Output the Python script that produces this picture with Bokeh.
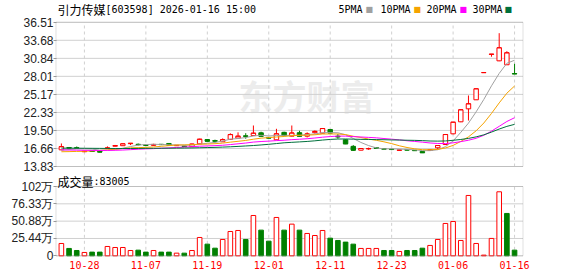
from bokeh.plotting import figure
from bokeh.models import FixedTicker, Label, Range1d, ColumnDataSource, BoxAnnotation
from bokeh.layouts import column
from bokeh.embed import file_html
from bokeh.resources import INLINE

dates = ["10-23", "10-24", "10-27", "10-28", "10-29", "10-30", "10-31",
         "11-03", "11-04", "11-05", "11-06", "11-07",
         "11-10", "11-11", "11-12", "11-13", "11-14",
         "11-17", "11-18", "11-19", "11-20", "11-21",
         "11-24", "11-25", "11-26", "11-27", "11-28",
         "12-01", "12-02", "12-03", "12-04", "12-05",
         "12-08", "12-09", "12-10", "12-11", "12-12",
         "12-15", "12-16", "12-17", "12-18", "12-19",
         "12-22", "12-23", "12-24", "12-25", "12-26",
         "12-29", "12-30", "12-31",
         "01-05", "01-06", "01-07", "01-08", "01-09",
         "01-12", "01-13", "01-14", "01-15", "01-16"]

opens = [16.45, 16.80, 16.78, 16.15, 16.25, 16.24, 16.70, 17.02, 17.10, 17.42,
         17.32, 17.22, 17.15, 17.32, 17.45, 17.10, 17.05, 16.95, 17.40, 18.07,
         17.90, 17.72, 18.10, 18.30, 18.65, 18.70, 19.13, 18.40, 18.03, 19.20,
         18.60, 19.15, 18.60, 19.15, 19.07, 19.65, 18.60, 18.03, 17.00, 16.40,
         16.60, 16.80, 16.62, 16.55, 16.38, 16.48, 16.38, 16.20, 16.35, 16.77,
         17.29, 18.97, 20.86, 22.90, 24.32, 28.60, 31.46, 30.45, 29.83, 28.45]
highs = [17.45, 16.90, 16.98, 16.30, 16.30, 16.28, 17.00, 17.22, 17.45, 17.50,
         17.45, 17.25, 17.40, 17.35, 17.47, 17.20, 17.08, 17.40, 18.20, 18.10,
         18.05, 18.25, 19.05, 19.20, 19.07, 20.28, 19.30, 18.45, 19.76, 19.30,
         20.28, 19.45, 19.20, 19.50, 19.85, 19.70, 18.95, 18.10, 17.20, 16.70,
         16.80, 16.88, 16.65, 16.60, 16.45, 16.50, 16.40, 16.25, 16.50, 17.20,
         18.90, 20.80, 22.80, 25.00, 26.05, 28.60, 31.50, 34.80, 31.96, 29.98]
lows = [16.40, 16.70, 16.60, 16.10, 16.15, 16.05, 16.65, 16.98, 17.05, 17.20,
        17.15, 17.12, 17.10, 17.20, 17.18, 17.05, 16.95, 16.90, 17.35, 17.78,
        17.60, 17.70, 18.05, 18.25, 18.20, 18.65, 18.55, 18.25, 18.00, 18.65,
        18.55, 18.55, 18.40, 19.00, 19.05, 19.05, 18.20, 17.35, 16.30, 16.35,
        16.45, 16.60, 16.50, 16.40, 16.35, 16.38, 16.30, 15.95, 16.30, 16.50,
        17.20, 18.90, 20.80, 21.06, 24.30, 28.60, 31.10, 30.40, 29.80, 28.38]
closes = [16.95, 16.75, 16.72, 16.22, 16.20, 16.10, 16.75, 17.12, 17.40, 17.48,
          17.27, 17.16, 17.30, 17.28, 17.20, 17.15, 16.98, 17.35, 18.12, 17.81,
          17.82, 18.05, 18.85, 18.60, 18.58, 19.07, 18.60, 18.30, 18.97, 18.70,
          19.10, 18.60, 18.95, 19.35, 19.80, 19.10, 18.50, 17.40, 16.40, 16.66,
          16.65, 16.70, 16.57, 16.50, 16.42, 16.42, 16.33, 16.00, 16.45, 17.13,
          18.86, 20.80, 22.75, 23.69, 26.05, 28.60, 31.50, 32.50, 31.71, 28.40]

# volume in 万
volumes = [18.1, 10.8, 7.8, 4.9, 5.4, 5.4, 13.7, 12.2, 12.2, 7.8,
           8.3, 5.4, 7.8, 5.4, 5.4, 3.9, 3.9, 7.8, 26.9, 17.1,
           11.2, 24.0, 35.7, 37.2, 24.0, 59.2, 37.7, 21.5, 56.3, 37.7,
           46.5, 37.7, 32.8, 29.8, 37.2, 25.9, 22.5, 20.1, 17.1, 10.8,
           10.8, 10.8, 7.8, 7.8, 6.4, 7.8, 7.8, 11.2, 15.2, 24.0,
           47.5, 50.4, 22.5, 88.6, 18.1, 1.0, 25.5, 94.0, 62.2, 8.3]
vol_up = [1, 0, 0, 1, 0, 0, 1, 1, 1, 1,
          0, 0, 1, 0, 0, 1, 0, 1, 1, 0,
          0, 1, 1, 1, 0, 1, 0, 0, 1, 0,
          1, 0, 1, 1, 1, 0, 0, 0, 0, 1,
          1, 1, 0, 0, 1, 0, 0, 0, 1, 1,
          1, 1, 1, 1, 1, 1, 1, 1, 0, 0]

ma5 = [16.40, 16.50, 16.60, 16.60, 16.57, 16.40, 16.40, 16.48, 16.71, 16.97,
       17.20, 17.29, 17.32, 17.30, 17.24, 17.22, 17.18, 17.19, 17.36, 17.48,
       17.62, 17.83, 18.13, 18.23, 18.38, 18.63, 18.74, 18.63, 18.70, 18.73,
       18.73, 18.73, 18.86, 18.94, 19.16, 19.16, 19.14, 18.83, 18.24, 17.61,
       17.12, 16.76, 16.60, 16.62, 16.57, 16.52, 16.45, 16.33, 16.32, 16.47,
       16.95, 17.85, 19.20, 20.65, 22.43, 24.38, 26.52, 28.47, 30.07, 30.54]
ma10 = [16.15, 16.17, 16.20, 16.22, 16.28, 16.35, 16.45, 16.55, 16.65, 16.77,
        16.80, 16.84, 16.90, 17.01, 17.11, 17.21, 17.23, 17.26, 17.33, 17.36,
        17.42, 17.51, 17.66, 17.79, 17.93, 18.12, 18.29, 18.38, 18.47, 18.55,
        18.68, 18.74, 18.75, 18.82, 18.94, 18.95, 18.94, 18.85, 18.59, 18.39,
        18.14, 17.95, 17.71, 17.43, 17.09, 16.82, 16.61, 16.47, 16.47, 16.52,
        16.74, 17.15, 17.77, 18.49, 19.45, 20.67, 22.18, 23.83, 25.36, 26.49]
ma20 = [16.45, 16.42, 16.40, 16.38, 16.36, 16.35, 16.36, 16.38, 16.42, 16.48,
        16.55, 16.60, 16.64, 16.70, 16.75, 16.82, 16.88, 16.95, 17.02, 17.07,
        17.11, 17.17, 17.28, 17.40, 17.52, 17.67, 17.76, 17.82, 17.90, 17.96,
        18.05, 18.12, 18.20, 18.31, 18.44, 18.54, 18.61, 18.61, 18.53, 18.47,
        18.41, 18.34, 18.23, 18.13, 18.02, 17.88, 17.77, 17.66, 17.53, 17.45,
        17.44, 17.55, 17.74, 17.96, 18.27, 18.74, 19.39, 20.15, 20.91, 21.50]
ma30 = [16.72, 16.72, 16.71, 16.70, 16.69, 16.68, 16.67, 16.66, 16.66, 16.66,
        16.67, 16.68, 16.69, 16.70, 16.71, 16.72, 16.73, 16.75, 16.78, 16.81,
        16.84, 16.88, 16.93, 16.99, 17.06, 17.13, 17.22, 17.32, 17.44, 17.56,
        17.63, 17.70, 17.77, 17.87, 17.99, 18.09, 18.15, 18.16, 18.13, 18.10,
        18.08, 18.06, 18.04, 18.01, 17.99, 17.96, 17.94, 17.90, 17.84, 17.82,
        17.85, 17.95, 18.08, 18.25, 18.49, 18.81, 19.24, 19.72, 20.14, 20.46]

price_ticks = [13.83, 16.66, 19.50, 22.33, 25.17, 28.01, 30.84, 33.68, 36.51]
price_tick_labels = ["13.83", "16.66", "19.50", "22.33", "25.17", "28.01", "30.84", "33.68", "36.51"]
vol_ticks = [0, 25.44, 50.88, 76.33, 101.77]
vol_tick_labels = ["0", "25.44万", "50.88万", "76.33万", "102万"]
date_tick_idx = [3, 11, 19, 27, 35, 43, 51, 59]

title_name = "引力传媒"
title_rest = "[603598] 2026-01-16 15:00"
legend_names = ["5PMA", "10PMA", "20PMA", "30PMA"]
vol_name = "成交量"
vol_last = ":83005"

RED = "#ff0000"
GREEN = "#008000"
MA_COLORS = ["#a0a0a0", "#f5a300", "#ff00ff", "#00703c"]
GRID = "#d0d0d0"
FRAME = "#999999"

# box (chart area) edges in index units
X_LO, X_HI = -0.7, 60.1
PX_PER_X = 7.681
FRAME_L, FRAME_R = 53, 53

n = len(closes)
idx = list(range(n))
up = [c >= o for o, c in zip(opens, closes)]
ccol = [RED if u else GREEN for u in up]
cfill = ["#ffffff" if u else GREEN for u in up]
src = ColumnDataSource(dict(
    x=idx, o=opens, h=highs, l=lows, c=closes,
    top=[max(o, c) for o, c in zip(opens, closes)],
    bot=[min(o, c) for o, c in zip(opens, closes)],
    xl=[i - 0.29 for i in idx], xr=[i + 0.29 for i in idx],
    col=ccol, fill=cfill,
))
vsrc = ColumnDataSource(dict(
    x=idx, v=volumes,
    col=[RED if u else GREEN for u in vol_up],
    fill=["#ffffff" if u else GREEN for u in vol_up],
))

xr = Range1d(X_LO - 2.5 / PX_PER_X, X_HI + 2.5 / PX_PER_X)


def px_to_x(px):
    return X_LO + (px - 55.5) / PX_PER_X


def style_y(ax):
    ax.major_label_text_font = "Liberation Sans"
    ax.major_label_text_font_size = "12px"
    ax.major_label_text_color = "#222222"
    ax.major_tick_out = 0
    ax.major_tick_in = 3
    ax.minor_tick_out = 0
    ax.minor_tick_in = 0
    ax.major_label_standoff = 0
    ax.axis_line_color = None
    ax.major_tick_line_color = FRAME


def grid_lines(p, ylo, yhi, yticks):
    p.grid.visible = False
    p.segment(x0=[X_LO] * len(yticks), x1=[X_HI] * len(yticks), y0=yticks, y1=yticks,
              line_color=GRID, line_width=1)
    p.segment(x0=date_tick_idx, x1=date_tick_idx, y0=[ylo] * len(date_tick_idx),
              y1=[yhi] * len(date_tick_idx), line_color=GRID, line_width=1, line_dash="3 3")


# ---------- price panel (canvas 0..173) ----------
P_SCALE = 144.2 / 22.68  # px per price unit
H1 = 173
y1 = Range1d(price_ticks[0] - (H1 - 166.0) / P_SCALE, price_ticks[-1] + 21.8 / P_SCALE)
p1 = figure(width=578, height=H1, x_range=xr, y_range=y1,
            output_backend="svg", toolbar_location=None,
            min_border_left=FRAME_L, min_border_right=FRAME_R, min_border_top=0, min_border_bottom=0)
p1.xaxis.visible = False
p1.outline_line_color = None
p1.yaxis.ticker = FixedTicker(ticks=price_ticks)
p1.yaxis.major_label_overrides = {t: s for t, s in zip(price_ticks, price_tick_labels)}
style_y(p1.yaxis[0])
grid_lines(p1, price_ticks[0], price_ticks[-1], price_ticks)

# watermark
p1.add_layout(Label(x=px_to_x(238), y=36.51 - (95 - 21.8) / P_SCALE, text="东方财富",
                    text_font="Noto Sans CJK SC", text_font_size="34px", text_font_style="bold",
                    text_color="#ececec", text_baseline="middle", text_align="left", level="underlay"))

p1.segment(x0="x", y0="l", x1="x", y1="h", line_color="col", line_width=1, source=src)
p1.vbar(x="x", width=0.58, top="top", bottom="bot", fill_color="fill", line_color="col",
        line_width=1, source=src)
p1.segment(x0="xl", y0="c", x1="xr", y1="c", line_color="col", line_width=1, source=src)

for ma, colr in zip([ma5, ma10, ma20, ma30], MA_COLORS):
    p1.line(idx, ma, line_color=colr, line_width=1)

p1.add_layout(BoxAnnotation(left=X_LO, right=X_HI, bottom=price_ticks[0], top=price_ticks[-1],
                            fill_color=None, line_color=FRAME, line_width=1))

# title + legend
ty = 36.51 + (21.8 - 9) / P_SCALE
p1.add_layout(Label(x=px_to_x(57), y=ty, text=title_name, text_font="Noto Sans CJK SC",
                    text_font_size="12px", text_color="#000000", text_baseline="middle"))
p1.add_layout(Label(x=px_to_x(105), y=ty, text=title_rest, text_font="DejaVu Sans Mono",
                    text_font_size="10px", text_color="#000000", text_baseline="middle"))
leg_px = [338, 380, 426, 472]
sw_px = [365, 413, 459, 504]
for name, lx, sx, colr in zip(legend_names, leg_px, sw_px, MA_COLORS):
    p1.add_layout(Label(x=px_to_x(lx), y=ty, text=name, text_font="DejaVu Sans Mono",
                        text_font_size="10px", text_color="#000000", text_baseline="middle"))
    p1.add_layout(Label(x=px_to_x(sx), y=ty, text="■", text_font="DejaVu Sans",
                        text_font_size="8px", text_color=colr, text_baseline="middle"))

# ---------- volume panel (canvas 173..276) ----------
H2 = 276 - H1
V_SCALE = 69.3 / vol_ticks[-1]  # px per 万
V_BOTTOM_BORDER = 19
frame_h2 = H2 - V_BOTTOM_BORDER  # frame spans canvas 173 .. 257
y2 = Range1d(-(H1 + frame_h2 - 255.3) / V_SCALE, vol_ticks[-1] + (186.0 - H1) / V_SCALE)
p2 = figure(width=578, height=H2, x_range=xr, y_range=y2,
            output_backend="svg", toolbar_location=None,
            min_border_left=FRAME_L, min_border_right=FRAME_R, min_border_top=0,
            min_border_bottom=V_BOTTOM_BORDER)
p2.outline_line_color = None
p2.yaxis.ticker = FixedTicker(ticks=vol_ticks)
p2.yaxis.major_label_overrides = {t: s for t, s in zip(vol_ticks, vol_tick_labels)}
style_y(p2.yaxis[0])
p2.xaxis.ticker = FixedTicker(ticks=date_tick_idx)
p2.xaxis.major_label_overrides = {i: dates[i] for i in date_tick_idx}
p2.xaxis.major_label_text_font = "DejaVu Sans Mono"
p2.xaxis.major_label_text_font_size = "10px"
p2.xaxis.major_label_text_color = RED
p2.xaxis.major_tick_out = 0
p2.xaxis.major_tick_in = 0
p2.xaxis.minor_tick_out = 0
p2.xaxis.minor_tick_in = 0
p2.xaxis.axis_line_color = None
p2.xaxis.major_label_standoff = 3
grid_lines(p2, 0, vol_ticks[-1], vol_ticks)

p2.vbar(x="x", width=0.6, top="v", bottom=0, fill_color="fill", line_color="col",
        line_width=1, source=vsrc)
p2.add_layout(BoxAnnotation(left=X_LO, right=X_HI, bottom=0, top=vol_ticks[-1],
                            fill_color=None, line_color=FRAME, line_width=1))

vy = vol_ticks[-1] + (186.0 - 180.5) / V_SCALE
p2.add_layout(Label(x=px_to_x(57), y=vy, text=vol_name, text_font="Noto Sans CJK SC",
                    text_font_size="12px", text_color="#000000", text_baseline="middle"))
p2.add_layout(Label(x=px_to_x(93), y=vy, text=vol_last, text_font="DejaVu Sans Mono",
                    text_font_size="10px", text_color="#000000", text_baseline="middle"))

layout = column(p1, p2, spacing=0)
open("out.html", "w").write(file_html(layout, INLINE))
